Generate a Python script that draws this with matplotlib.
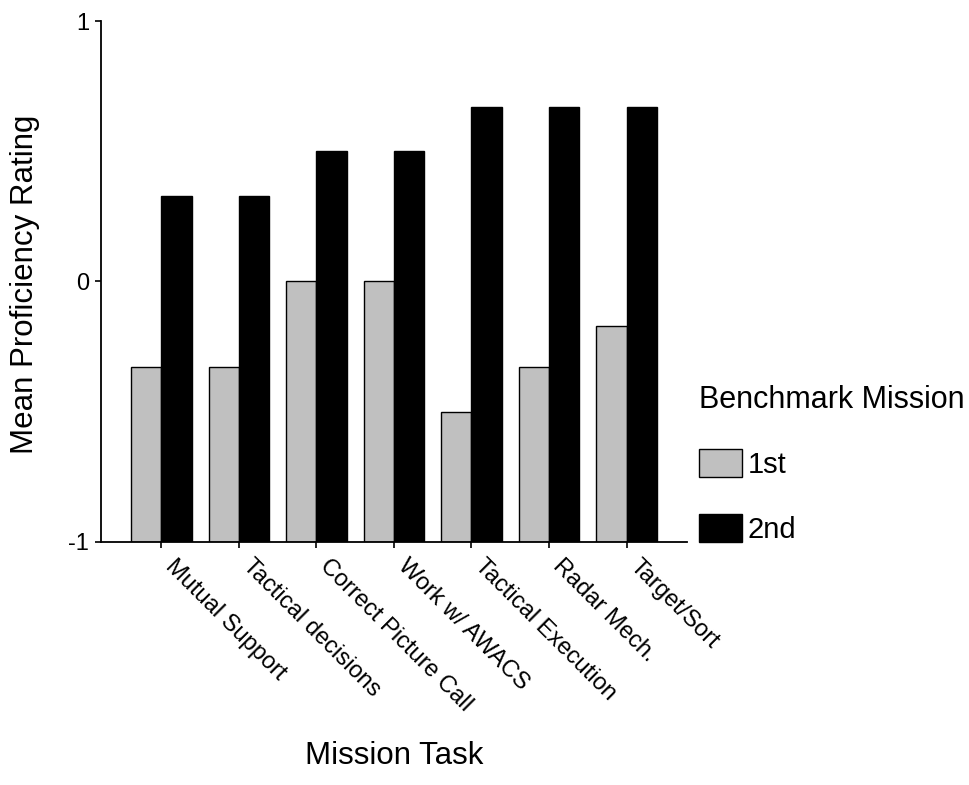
import matplotlib.pyplot as plt
import matplotlib.transforms as mtransforms
import numpy as np

plt.rcParams['font.family'] = ['Liberation Sans', 'DejaVu Sans']
plt.rcParams['axes.unicode_minus'] = False

tasks = ['Mutual Support', 'Tactical decisions', 'Correct Picture Call',
         'Work w/ AWACS', 'Tactical Execution', 'Radar Mech.', 'Target/Sort']
first = [-0.33, -0.33, 0.0, 0.0, -0.5, -0.33, -0.17]
second = [0.33, 0.33, 0.5, 0.5, 0.67, 0.67, 0.67]
series_names = ['1st', '2nd']
yticks = [-1, 0, 1]

fig = plt.figure(figsize=(9.69, 7.85), dpi=100)
ax = fig.add_axes([0.104, 0.310, 0.605, 0.663])

x = np.arange(len(tasks))
w = 0.39
base = -1
ax.bar(x - w / 2, np.array(first) - base, w, bottom=base, color='#c0c0c0',
       edgecolor='black', linewidth=1.0, label=series_names[0])
ax.bar(x + w / 2, np.array(second) - base, w, bottom=base, color='black',
       edgecolor='black', linewidth=1.0, label=series_names[1])

ax.set_xlim(-0.78, len(tasks) - 1 + 0.78)
ax.set_ylim(-1, 1)
ax.spines['top'].set_visible(False)
ax.spines['right'].set_visible(False)
ax.spines['left'].set_linewidth(1.3)
ax.spines['bottom'].set_linewidth(1.3)

ax.set_yticks(yticks)
ax.set_yticklabels([str(v) for v in yticks], fontsize=17)
ax.set_xticks(x)
ax.set_xticklabels(tasks, fontsize=17, rotation=-45, ha='left', va='top',
                   rotation_mode='anchor')
ax.tick_params(axis='both', direction='out', length=4.5, width=1.2, pad=4)

# push the slanted labels a little to the right of their ticks
shift = mtransforms.ScaledTranslation(15 / 100, -2 / 100, fig.dpi_scale_trans)
for lbl in ax.get_xticklabels():
    lbl.set_transform(lbl.get_transform() + shift)

ax.set_ylabel('Mean Proficiency Rating', fontsize=22.5)
ax.yaxis.set_label_coords(-0.104, 0.495)
ax.set_xlabel('Mission Task', fontsize=22.5)
ax.xaxis.set_label_coords(0.5, -0.383)

leg = fig.legend(loc='upper left', bbox_to_anchor=(699 / 969, 1 - 385 / 785),
                 frameon=False, fontsize=21, title='Benchmark Mission',
                 title_fontsize=22, borderpad=0, borderaxespad=0,
                 handlelength=1.47, handleheight=1.1, labelspacing=1.18,
                 handletextpad=0.2, alignment='left')

plt.savefig('out.png', dpi=100)
